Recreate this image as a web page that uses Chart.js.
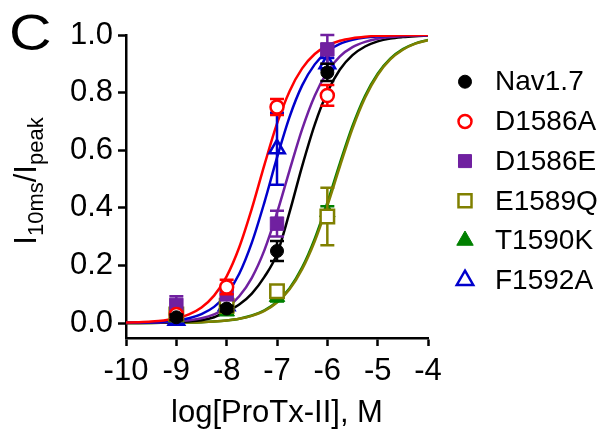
<!DOCTYPE html>
<html><head><meta charset="utf-8">
<script src="https://cdn.jsdelivr.net/npm/chart.js@4.4.1/dist/chart.umd.min.js"></script>
<style>html,body{margin:0;padding:0;background:#fff;}#wrap{width:605px;height:429px;position:relative;}</style>
</head><body><div id="wrap"><canvas id="c" width="605" height="429"></canvas></div>
<script>
// ---- data ----
const concLog = [-9, -8, -7, -6];
const nav17 = [0.02, 0.05, 0.25, 0.87];
const nav17Sem = [0.01, 0.01, 0.035, 0.03];
const d1586A = [0.03, 0.125, 0.75, 0.79];
const d1586ASem = [0.01, 0.025, 0.028, 0.036];
const d1586E = [0.063, 0.10, 0.345, 0.95];
const d1586ESem = [0.03, 0.02, 0.045, 0.05];
const e1589Q = [0.03, 0.06, 0.11, 0.37];
const e1589QSem = [0.01, 0.01, 0.02, 0.10];
const t1590K = [0.02, 0.04, 0.09, 0.385];
const t1590KSem = [0.01, 0.01, 0.015, 0.02];
const f1592A = [0.01, 0.06, 0.605, 0.90];
const f1592ASem = [0.01, 0.01, 0.125, 0.02];

// fitted curves
const fitX = [-10, -9.75, -9.5, -9.25, -9, -8.75, -8.5, -8.25, -8, -7.75, -7.5, -7.25, -7, -6.75, -6.5, -6.25, -6, -5.75, -5.5, -5.25, -5, -4.75, -4.5, -4.25, -4];
const fitNav17 = [0.0003, 0.0005, 0.0009, 0.0017, 0.003, 0.0055, 0.010, 0.020, 0.040, 0.064, 0.102, 0.160, 0.240, 0.385, 0.545, 0.689, 0.801, 0.880, 0.930, 0.960, 0.978, 0.988, 0.993, 0.996, 0.998];
const fitD1586A = [0.0014, 0.0027, 0.0049, 0.009, 0.0165, 0.030, 0.054, 0.095, 0.162, 0.263, 0.397, 0.549, 0.692, 0.805, 0.884, 0.934, 0.963, 0.980, 0.989, 0.994, 0.997, 0.998, 0.999, 0.9995, 0.9997];
const fitD1586E = [0.0005, 0.0008, 0.0015, 0.0028, 0.0051, 0.0092, 0.0166, 0.030, 0.053, 0.093, 0.157, 0.253, 0.382, 0.530, 0.673, 0.789, 0.872, 0.926, 0.958, 0.976, 0.987, 0.993, 0.996, 0.998, 0.9988];
const fitE1589Q = [0.0001, 0.0002, 0.0003, 0.0006, 0.001, 0.0016, 0.0028, 0.0049, 0.0085, 0.0145, 0.025, 0.042, 0.071, 0.117, 0.187, 0.284, 0.407, 0.544, 0.675, 0.782, 0.861, 0.915, 0.949, 0.970, 0.982];
const fitT1590K = [0.0001, 0.0002, 0.0003, 0.0006, 0.001, 0.0017, 0.0029, 0.0051, 0.0088, 0.015, 0.026, 0.044, 0.074, 0.121, 0.193, 0.293, 0.418, 0.555, 0.684, 0.789, 0.866, 0.918, 0.951, 0.971, 0.983];
const fitF1592A = [0.0007, 0.0014, 0.0026, 0.0048, 0.009, 0.0166, 0.031, 0.056, 0.100, 0.171, 0.279, 0.419, 0.574, 0.716, 0.825, 0.898, 0.943, 0.969, 0.983, 0.991, 0.995, 0.997, 0.9985, 0.9992, 0.9996];

const xTicks = [-10, -9, -8, -7, -6, -5, -4];
const yTicks = [0, 0.2, 0.4, 0.6, 0.8, 1.0];
const panelLetter = 'C';
const xTitle = 'log[ProTx-II], M';
const yTitleParts = [['I', false], ['10ms', true], ['/I', false], ['peak', true]];

// ---- styling ----
const FONT = '"Liberation Sans", Arial, Helvetica, sans-serif';
const C_BLACK = '#000000', C_RED = '#ff0000', C_PURPLE = '#7020a0', C_OLIVE = '#808000', C_GREEN = '#008000', C_BLUE = '#0000cc';

const pts = (xs, ys) => xs.map((x, i) => ({x: x, y: ys[i]}));

function markerSet(label, ys, sem, style, r, fill, stroke, bw) {
  return {label, data: pts(concLog, ys), errors: sem, pointStyle: style, pointRadius: r, pointHoverRadius: r,
    backgroundColor: fill, borderColor: stroke, pointBorderWidth: bw, borderWidth: bw, showLine: false, order: 1, isMarker: true};
}
function curveSet(ys, color) {
  return {label: '', data: pts(fitX, ys), showLine: true, pointRadius: 0, pointHoverRadius: 0, borderColor: color,
    backgroundColor: color, borderWidth: 2.5, cubicInterpolationMode: 'monotone', fill: false, order: 2};
}

const datasets = [
  markerSet('Nav1.7', nav17, nav17Sem, 'circle', 6.5, C_BLACK, C_BLACK, 1),
  markerSet('D1586A', d1586A, d1586ASem, 'circle', 6.5, '#ffffff', C_RED, 2.5),
  markerSet('D1586E', d1586E, d1586ESem, 'rect', 9.5, C_PURPLE, C_PURPLE, 1),
  markerSet('E1589Q', e1589Q, e1589QSem, 'rect', 9.5, '#ffffff', C_OLIVE, 2.5),
  markerSet('T1590K', t1590K, t1590KSem, 'triangle', 9, C_GREEN, C_GREEN, 1),
  markerSet('F1592A', f1592A, f1592ASem, 'triangle', 9, 'rgba(255,255,255,0)', C_BLUE, 2.5),
  curveSet(fitD1586A, C_RED),
  curveSet(fitF1592A, C_BLUE),
  curveSet(fitD1586E, C_PURPLE),
  curveSet(fitNav17, C_BLACK),
  curveSet(fitE1589Q, C_OLIVE),
  curveSet(fitT1590K, C_GREEN)
];

const errorBarPlugin = {
  id: 'errorBars',
  beforeDatasetDraw(chart, args) {
    const ds = chart.data.datasets[args.index];
    if (!ds.errors) return;
    const xs = chart.scales.x, ys = chart.scales.y, ctx = chart.ctx;
    ctx.save();
    ctx.strokeStyle = ds.borderColor;
    ctx.lineWidth = 2.5;
    const cap = 7;
    ds.data.forEach((p, i) => {
      const e = ds.errors[i];
      const px = xs.getPixelForValue(p.x);
      const yt = ys.getPixelForValue(p.y + e), yb = ys.getPixelForValue(p.y - e);
      ctx.beginPath();
      ctx.moveTo(px, yt); ctx.lineTo(px, yb);
      ctx.moveTo(px - cap, yt); ctx.lineTo(px + cap, yt);
      ctx.moveTo(px - cap, yb); ctx.lineTo(px + cap, yb);
      ctx.stroke();
    });
    ctx.restore();
  }
};

function drawMarker(ctx, style, x, y, r, fill, stroke, bw) {
  ctx.save();
  ctx.fillStyle = fill; ctx.strokeStyle = stroke; ctx.lineWidth = bw;
  ctx.beginPath();
  if (style === 'circle') {
    ctx.arc(x, y, r, 0, Math.PI * 2);
  } else if (style === 'rect') {
    const s = r * Math.SQRT1_2;
    ctx.rect(x - s, y - s, 2 * s, 2 * s);
  } else if (style === 'triangle') {
    for (let k = 0; k < 3; k++) {
      const a = k * 2 * Math.PI / 3;
      const px = x + Math.sin(a) * r, py = y - Math.cos(a) * r;
      if (k === 0) ctx.moveTo(px, py); else ctx.lineTo(px, py);
    }
    ctx.closePath();
  }
  ctx.fill();
  if (bw) ctx.stroke();
  ctx.restore();
}

const decorPlugin = {
  id: 'decor',
  afterDraw(chart) {
    const ctx = chart.ctx;
    ctx.save();
    ctx.fillStyle = '#000';
    ctx.textAlign = 'left';
    ctx.textBaseline = 'alphabetic';
    ctx.save();
    ctx.translate(9, 50);
    ctx.scale(1.18, 1);
    ctx.font = '50px ' + FONT;
    ctx.fillText(panelLetter, 0, 0);
    ctx.restore();

    // y-axis title with subscripts
    ctx.save();
    ctx.translate(36, 181);
    ctx.rotate(-Math.PI / 2);
    const mainF = '31px ' + FONT, subF = '22px ' + FONT;
    let total = 0;
    yTitleParts.forEach(([t, sub]) => { ctx.font = sub ? subF : mainF; total += ctx.measureText(t).width; });
    let cx = -total / 2;
    yTitleParts.forEach(([t, sub]) => {
      ctx.font = sub ? subF : mainF;
      ctx.fillText(t, cx, sub ? 7 : 0);
      cx += ctx.measureText(t).width;
    });
    ctx.restore();

    // legend
    const mx = 465, tx = 495, y0 = 81.7, dy = 39.7;
    let row = 0;
    chart.data.datasets.forEach(ds => {
      if (!ds.isMarker) return;
      const y = y0 + row * dy;
      drawMarker(ctx, ds.pointStyle, mx, y, ds.pointStyle === 'rect' ? 9.2 : ds.pointStyle === 'triangle' ? 9.5 : 6.5,
        ds.backgroundColor, ds.borderColor, ds.pointBorderWidth);
      ctx.fillStyle = '#000';
      ctx.font = '28px ' + FONT;
      ctx.textBaseline = 'middle';
      ctx.fillText(ds.label, tx, y + 1);
      row++;
    });
    ctx.restore();
  }
};

new Chart(document.getElementById('c'), {
  type: 'scatter',
  data: {datasets},
  options: {
    responsive: false,
    animation: false,
    events: [],
    layout: {padding: {left: 0, right: 177, top: 35, bottom: 0}},
    plugins: {legend: {display: false}, tooltip: {enabled: false}, title: {display: false}},
    scales: {
      x: {
        type: 'linear', position: 'bottom', min: -10, max: -4,
        afterBuildTicks: s => { s.ticks = xTicks.map(v => ({value: v})); },
        afterFit: s => { s.height = 91; },
        ticks: {color: '#000', font: {size: 31, family: FONT}, padding: 7, maxRotation: 0, autoSkip: false, callback: v => String(v)},
        grid: {display: true, drawOnChartArea: false, drawTicks: true, tickLength: 8, tickWidth: 2.5, tickColor: '#000'},
        border: {display: true, color: '#000', width: 2.5},
        title: {display: true, text: xTitle, color: '#000', font: {size: 31, family: FONT}, padding: {top: 0, bottom: -3}}
      },
      y: {
        type: 'linear', min: -0.052, max: 1.0,
        afterBuildTicks: s => { s.ticks = yTicks.map(v => ({value: v})); },
        afterFit: s => { s.width = 126; },
        ticks: {color: '#000', font: {size: 31, family: FONT}, padding: 5, callback: v => Number(v).toFixed(1)},
        grid: {display: true, drawOnChartArea: false, drawTicks: true, tickLength: 8, tickWidth: 2.5, tickColor: '#000'},
        border: {display: true, color: '#000', width: 2.5},
        title: {display: false}
      }
    }
  },
  plugins: [errorBarPlugin, decorPlugin]
});
</script></body></html>
